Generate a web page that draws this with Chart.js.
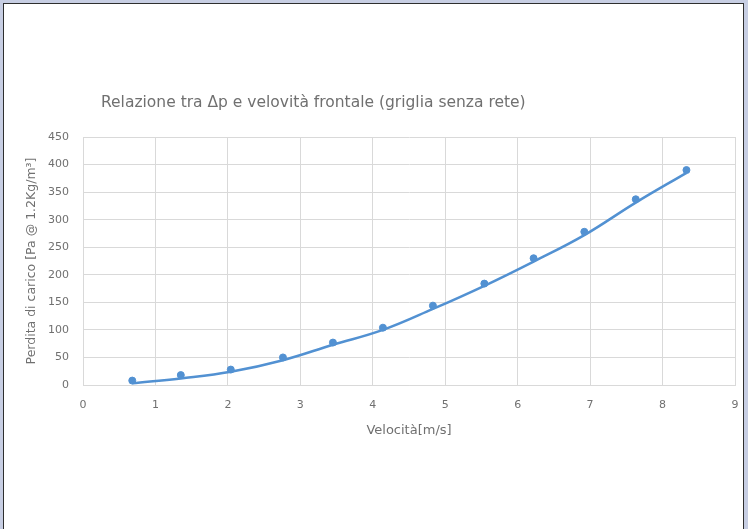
<!DOCTYPE html>
<html>
<head>
<meta charset="utf-8">
<script src="https://cdn.jsdelivr.net/npm/chart.js@4/dist/chart.umd.min.js"></script>
<style>
  html, body { margin: 0; padding: 0; }
  body { width: 748px; height: 529px; background: #c7cee3; position: relative; overflow: hidden; }
  #frame { position: absolute; left: 3px; top: 3px; width: 739px; height: 560px; background: #fff; border: 1px solid #2e2e2e; }
  #wrap { position: absolute; left: 0; top: 0; width: 748px; height: 529px; }
</style>
</head>
<body>
<div id="frame"></div>
<div id="wrap"><canvas id="c" width="748" height="529"></canvas></div>
<script>
// ---- data ----
const chartTitle = "Relazione tra Δp e velovità frontale (griglia senza rete)";
const xTitle = "Velocità[m/s]";
const yTitle = "Perdita di carico [Pa @ 1.2Kg/m³]";
const velocity = [0.68, 1.35, 2.04, 2.76, 3.45, 4.14, 4.83, 5.54, 6.22, 6.92, 7.63, 8.33];
const measured = [8, 18, 28, 50, 77, 104, 144, 184, 230, 278, 337, 390];
const fitted   = [3, 12, 24, 45, 73, 100, 138, 180, 224, 272, 331, 385];
const xTicks = [0, 1, 2, 3, 4, 5, 6, 7, 8, 9];
const yTicks = [0, 50, 100, 150, 200, 250, 300, 350, 400, 450];

const FONT = '"DejaVu Sans", "Liberation Sans", sans-serif';
const textColor = '#707070';
const gridColor = '#d9d9d9';
const blue = '#5291d2';

const titlePlugin = {
  id: 'leftTitle',
  afterDraw(chart) {
    const ctx = chart.ctx;
    ctx.save();
    ctx.font = '15.5px ' + FONT;
    ctx.fillStyle = textColor;
    ctx.textBaseline = 'middle';
    ctx.textAlign = 'left';
    ctx.fillText(chartTitle, chart.chartArea.left + 18, chart.chartArea.top - 34);
    ctx.restore();
  }
};

new Chart(document.getElementById('c'), {
  type: 'line',
  data: {
    datasets: [
      {
        label: 'fit',
        data: velocity.map((v, i) => ({x: v, y: fitted[i]})),
        borderColor: blue,
        borderWidth: 2.5,
        pointRadius: 0,
        tension: 0.4,
        fill: false,
        order: 2
      },
      {
        label: 'misure',
        data: velocity.map((v, i) => ({x: v, y: measured[i]})),
        showLine: false,
        pointRadius: 3.5,
        pointBackgroundColor: blue,
        pointBorderColor: blue,
        pointBorderWidth: 1,
        order: 1
      }
    ]
  },
  options: {
    responsive: false,
    animation: false,
    devicePixelRatio: 1,
    layout: { padding: { left: 20, right: 13, top: 137, bottom: 87 } },
    plugins: { legend: { display: false }, tooltip: { enabled: false }, title: { display: false } },
    scales: {
      x: {
        type: 'linear',
        min: 0, max: 9,
        afterBuildTicks(s) { s.ticks = xTicks.map(v => ({value: v})); },
        afterFit(s) { s.height = 57; s.paddingLeft = 0; s.paddingRight = 0; },
        ticks: { color: textColor, font: { size: 11, family: FONT }, padding: 14 },
        grid: { color: gridColor, drawTicks: false },
        border: { color: gridColor },
        title: { display: true, text: xTitle, color: textColor, font: { size: 13, family: FONT }, padding: { top: 11, bottom: 4 } }
      },
      y: {
        min: 0, max: 450,
        afterBuildTicks(s) { s.ticks = yTicks.map(v => ({value: v})); },
        afterFit(s) { s.width = 63; },
        ticks: { color: textColor, font: { size: 11, family: FONT }, padding: 14 },
        grid: { color: gridColor, drawTicks: false },
        border: { color: gridColor },
        title: { display: true, text: yTitle, color: textColor, font: { size: 12.5, family: FONT }, padding: { top: 4, bottom: 4 } }
      }
    }
  },
  plugins: [titlePlugin]
});
</script>
</body>
</html>
